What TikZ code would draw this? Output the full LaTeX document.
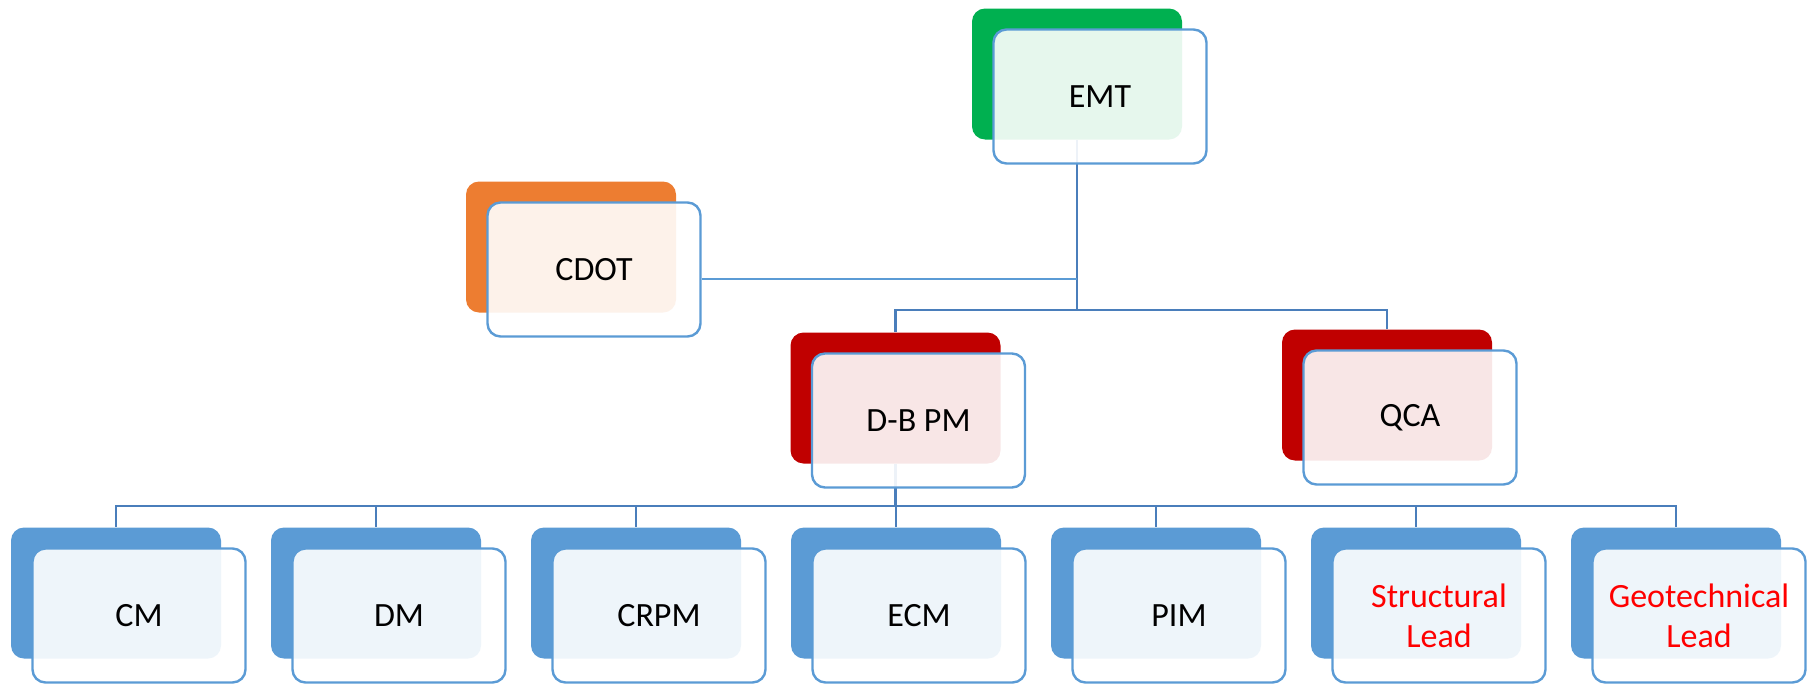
\documentclass[tikz,border=0pt]{standalone}
\usepackage{fontspec}
\setmainfont{Carlito}
\usetikzlibrary{positioning}
\definecolor{emtgreen}{HTML}{00B050}
\definecolor{cdotorange}{HTML}{ED7D31}
\definecolor{pmred}{HTML}{C00000}
\definecolor{staffblue}{HTML}{5B9BD5}
\definecolor{edgeblue}{HTML}{4A7EBB}
\definecolor{leadred}{HTML}{FF0000}
\pgfdeclarelayer{back}
\pgfdeclarelayer{links}
\pgfsetlayers{back,links,main}
\tikzset{
  backbox/.style={rectangle, rounded corners=6.5pt, minimum width=105pt, minimum height=65.5pt, inner sep=0pt},
  frontbox/.style={rectangle, rounded corners=6.5pt, draw=staffblue, line width=1.2pt,
    fill=white, fill opacity=0.9, text opacity=1, minimum width=106.5pt, minimum height=67pt,
    align=center, font=\fontsize{17}{20}\selectfont},
  link/.style={draw=edgeblue, line width=1.15pt},
  thinlink/.style={draw=staffblue, line width=0.6pt},
}
\begin{document}
\begin{tikzpicture}[x=0.5pt, y=-0.5pt]
  \useasboundingbox (0,0) rectangle (1813,685);
  % coloured back plates
  \begin{pgfonlayer}{back}
    \node[backbox, fill=emtgreen] (emtb) at (1077,74) {};
    \node[backbox, fill=cdotorange] (cdotb) at (571,247) {};
    \node[backbox, fill=pmred] (dbpmb) at (895.5,398) {};
    \node[backbox, fill=pmred] (qcab) at (1387,395) {};
    \foreach \name [count=\i from 0] in {cm,dm,crpm,ecm,pim,sl,gl}
      \node[backbox, fill=staffblue] (\name-b) at (116+260*\i,593) {};
  \end{pgfonlayer}
  % framed front boxes
  \node[frontbox] (emt) at ([shift={(23,22.5)}]emtb) {EMT};
  \node[frontbox] (cdot) at ([shift={(23,22.5)}]cdotb) {CDOT};
  \node[frontbox] (dbpm) at ([shift={(23,22.5)}]dbpmb) {D-B PM};
  \node[frontbox] (qca) at ([shift={(23,22.5)}]qcab) {QCA};
  \foreach \name/\lbl/\tc in {cm/CM/black, dm/DM/black, crpm/CRPM/black, ecm/ECM/black,
      pim/PIM/black, sl/{Structural\\Lead}/leadred, gl/{Geotechnical\\Lead}/leadred}
    \node[frontbox, text=\tc] (\name) at ([shift={(23,22.5)}]\name-b) {\lbl};
  % connectors
  \begin{pgfonlayer}{links}
    \draw[link] (emtb.south) -- (emtb.south |- 0,310) -| (dbpmb.north);
    \draw[link] (emtb.south |- 0,310) -| (qcab.north);
    \draw[thinlink] ([yshift=-4.75pt]cdot.east) coordinate (cdotend) -- (cdotend -| emtb.south);
    \foreach \name in {cm,dm,crpm,ecm,pim,sl,gl}
      \draw[link] (dbpmb.south) -- (dbpmb.south |- 0,506) -| (\name-b.north);
  \end{pgfonlayer}
\end{tikzpicture}
\end{document}
